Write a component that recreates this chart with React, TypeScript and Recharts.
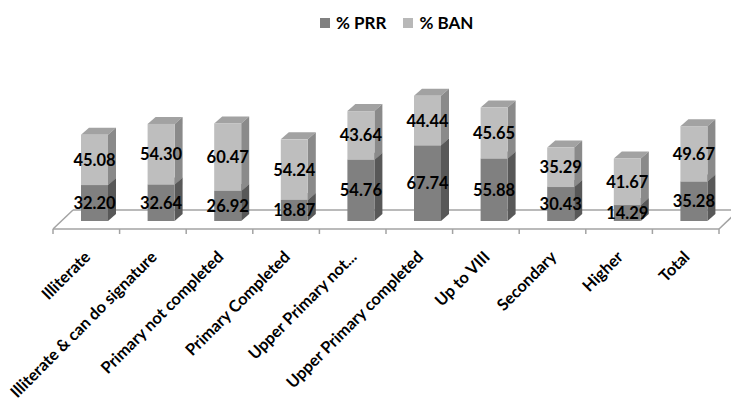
import React from 'react';
import { BarChart, Bar, XAxis, YAxis, Legend, LabelList } from 'recharts';

const categories = [
  'Illiterate',
  'Illiterate & can do signature',
  'Primary not completed',
  'Primary Completed',
  'Upper Primary not...',
  'Upper Primary completed',
  'Up to VIII',
  'Secondary',
  'Higher',
  'Total',
];
const prr = [32.2, 32.64, 26.92, 18.87, 54.76, 67.74, 55.88, 30.43, 14.29, 35.28];
const ban = [45.08, 54.3, 60.47, 54.24, 43.64, 44.44, 45.65, 35.29, 41.67, 49.67];

const data = categories.map((name, i) => ({ name, prr: prr[i], ban: ban[i] }));

const W = 731;
const H = 401;
const AXIS_H = 1;
const MARGIN = { top: 87, right: 4, bottom: 180 - AXIS_H, left: 61 };
const PLOT_W = W - MARGIN.left - MARGIN.right;
const BASE_Y = H - MARGIN.bottom - AXIS_H;
const BAND = PLOT_W / categories.length;

// depth of each column and of the floor it stands on
const DX = 8;
const DY = 7;
const FLOOR_DX = 20;
const FLOOR_DY = 19;
const FLOOR_SHIFT = 8; // floor front edge sits this far left/below the column fronts

const FONT = 'Lato, "Open Sans", sans-serif';
const FLOOR_COLOR = '#a3a3a3';

const PRR = { front: '#808080', side: '#585858', top: '#6c6c6c' };
const BAN = { front: '#bebebe', side: '#8a8a8a', top: '#a2a2a2' };

const make3D = (c: { front: string; side: string; top: string }) => (props: any) => {
  const { x, y, width: w, height: h } = props;
  if (!h || h <= 0) return null;
  return (
    <g>
      <path d={`M${x},${y} L${x + DX},${y - DY} L${x + w + DX},${y - DY} L${x + w},${y} Z`} fill={c.top} />
      <path
        d={`M${x + w},${y} L${x + w + DX},${y - DY} L${x + w + DX},${y + h - DY} L${x + w},${y + h} Z`}
        fill={c.side}
      />
      <rect x={x} y={y} width={w} height={h} fill={c.front} />
    </g>
  );
};

const ValueLabel = (props: any) => {
  const { x, y, width, height, value } = props;
  return (
    <text
      x={x + width / 2}
      y={y + height / 2}
      textAnchor="middle"
      dominantBaseline="central"
      fontFamily={FONT}
      fontWeight={700}
      fontSize={16.5}
      fill="#000"
    >
      {Number(value).toFixed(2)}
    </text>
  );
};

const FloorTick = (props: any) => {
  const { x, payload, index } = props;
  const fx = x - FLOOR_SHIFT;
  const fy = BASE_Y + FLOOR_SHIFT;
  const left = fx - BAND / 2;
  const right = fx + BAND / 2;
  const last = index === categories.length - 1;
  const tx = fx + 5;
  const ty = fy + 29;
  return (
    <g>
      <line x1={left} y1={fy} x2={left} y2={fy + 5} stroke={FLOOR_COLOR} strokeWidth={1.5} />
      {last && <line x1={right} y1={fy} x2={right} y2={fy + 5} stroke={FLOOR_COLOR} strokeWidth={1.5} />}
      <text
        x={tx}
        y={ty}
        transform={`rotate(-45 ${tx} ${ty})`}
        textAnchor="end"
        fontFamily={FONT}
        fontWeight={700}
        fontSize={16.3}
        fill="#000"
      >
        {payload.value}
      </text>
    </g>
  );
};

const LegendContent = () => (
  <div style={{ height: 0, position: 'relative' }}>
    <div
      style={{
        position: 'absolute',
        left: 320,
        top: 0,
        display: 'flex',
        alignItems: 'center',
        fontFamily: FONT,
        fontWeight: 700,
        fontSize: 17,
        lineHeight: '20px',
        color: '#000',
        whiteSpace: 'nowrap',
      }}
    >
      <span style={{ width: 10, height: 10, background: PRR.front, display: 'inline-block', marginRight: 6 }} />
      <span style={{ marginRight: 17 }}>% PRR</span>
      <span style={{ width: 10, height: 10, background: '#b8b8b8', display: 'inline-block', marginRight: 6 }} />
      <span>% BAN</span>
    </div>
  </div>
);

const Floor = () => {
  const x0 = MARGIN.left - FLOOR_SHIFT;
  const x1 = W - MARGIN.right - FLOOR_SHIFT;
  const fy = BASE_Y + FLOOR_SHIFT;
  const by = fy - FLOOR_DY;
  return (
    <svg width={W} height={H} style={{ position: 'absolute', left: 0, top: 0 }}>
      <g stroke={FLOOR_COLOR} strokeWidth={1.5} fill="none">
        <line x1={x0} y1={fy} x2={x1} y2={fy} />
        <line x1={x0 + FLOOR_DX} y1={by} x2={x1 + FLOOR_DX} y2={by} />
        <line x1={x0} y1={fy} x2={x0 + FLOOR_DX} y2={by} />
        <line x1={x1} y1={fy} x2={x1 + FLOOR_DX} y2={by} />
      </g>
    </svg>
  );
};

export default function App() {
  return (
    <div style={{ position: 'absolute', left: 0, top: 0, width: W, height: H, background: '#fff', overflow: 'hidden' }}>
      <Floor />
      <div style={{ position: 'absolute', left: 0, top: 0 }}>
        <BarChart width={W} height={H} data={data} margin={MARGIN}>
          <XAxis
            dataKey="name"
            height={AXIS_H}
            interval={0}
            axisLine={false}
            tickLine={false}
            tickSize={0}
            tickMargin={0}
            tick={<FloorTick />}
          />
          <YAxis hide domain={[0, 120]} />
          <Legend
            verticalAlign="top"
            content={<LegendContent />}
            wrapperStyle={{ top: 13, left: 0, width: W }}
          />
          <Bar dataKey="prr" name="% PRR" stackId="a" barSize={27} shape={make3D(PRR)} isAnimationActive={false}>
            <LabelList dataKey="prr" content={<ValueLabel />} />
          </Bar>
          <Bar dataKey="ban" name="% BAN" stackId="a" barSize={27} shape={make3D(BAN)} isAnimationActive={false}>
            <LabelList dataKey="ban" content={<ValueLabel />} />
          </Bar>
        </BarChart>
      </div>
    </div>
  );
}
